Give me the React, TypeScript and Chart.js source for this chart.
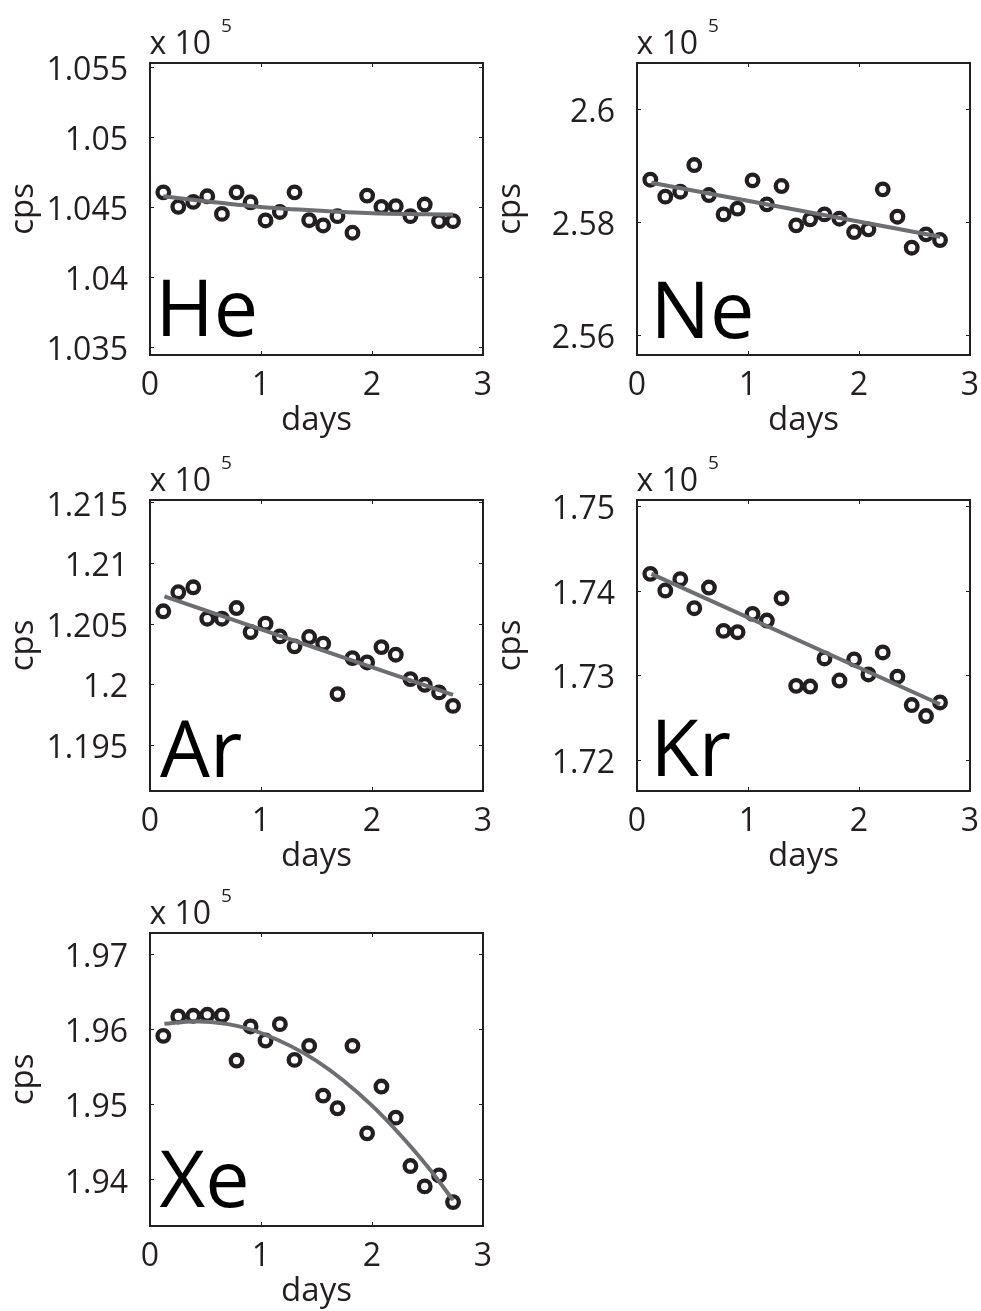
import React, { useEffect, useRef } from 'react';
import { Chart, registerables } from 'chart.js';

Chart.register(...registerables);

// ---- data (cps in units of 10^5) ----
const days = [0.12, 0.255, 0.39, 0.516, 0.648, 0.78, 0.906, 1.041, 1.17, 1.302, 1.434, 1.56, 1.689, 1.824, 1.956, 2.085, 2.214, 2.346, 2.475, 2.604, 2.73];
const dayTicks = [0, 1, 2, 3];

const heCps = [1.04604, 1.04501, 1.04536, 1.04576, 1.0445, 1.04604, 1.04533, 1.04403, 1.04464, 1.04604, 1.04405, 1.04367, 1.04434, 1.04315, 1.04581, 1.045, 1.04505, 1.04434, 1.04517, 1.04398, 1.04398];
const neCps = [2.58748, 2.58448, 2.58536, 2.59007, 2.58477, 2.58135, 2.58236, 2.58736, 2.58312, 2.58636, 2.57941, 2.58047, 2.58135, 2.58059, 2.57823, 2.5787, 2.58577, 2.58094, 2.57546, 2.57782, 2.57682];
const arCps = [1.20602, 1.20759, 1.208, 1.20541, 1.20541, 1.20629, 1.20431, 1.205, 1.20395, 1.20313, 1.2039, 1.20335, 1.19919, 1.20216, 1.2018, 1.20307, 1.20244, 1.20043, 1.19996, 1.19933, 1.19822];
const krCps = [1.74197, 1.74, 1.74134, 1.73791, 1.74035, 1.73523, 1.73507, 1.73724, 1.73645, 1.73909, 1.72873, 1.72865, 1.73197, 1.72936, 1.73185, 1.73008, 1.73268, 1.72981, 1.72646, 1.72516, 1.72677];
const xeCps = [1.95911, 1.96169, 1.96178, 1.96191, 1.96182, 1.95582, 1.96036, 1.95849, 1.96067, 1.95591, 1.95778, 1.95116, 1.94947, 1.95778, 1.94613, 1.95236, 1.94822, 1.94178, 1.93907, 1.94053, 1.93698];

const heFitDays = [0.12, 0.5, 1.0, 1.5, 2.0, 2.5, 2.73];
const heFitCps = [1.04576, 1.0454, 1.045, 1.04474, 1.04455, 1.04448, 1.04445];
const neFitDays = [0.13, 2.73];
const neFitCps = [2.58695, 2.57741];
const arFitDays = [0.13, 2.73];
const arFitCps = [1.20726, 1.19913];
const krFitDays = [0.13, 2.73];
const krFitCps = [1.74197, 1.72656];
const xeFitDays = [0.13, 0.4, 0.7, 1.0, 1.5, 2.0, 2.5, 2.73];
const xeFitCps = [1.96071, 1.96107, 1.96067, 1.95949, 1.95578, 1.94982, 1.94173, 1.93724];

const heTicks = [1.035, 1.04, 1.045, 1.05, 1.055];
const neTicks = [2.56, 2.58, 2.6];
const arTicks = [1.195, 1.2, 1.205, 1.21, 1.215];
const krTicks = [1.72, 1.73, 1.74, 1.75];
const xeTicks = [1.94, 1.95, 1.96, 1.97];

const heRange = [1.0344, 1.0553];
const neRange = [2.5565, 2.6081];
const arRange = [1.1912, 1.2152];
const krRange = [1.7163, 1.7507];
const xeRange = [1.9338, 1.9728];

// ---- styling / layout ----
const FONT = "'Open Sans', sans-serif";
const INK = '#231f20';
const FIT = '#6d6e71';
const AXIS_W = 150;
const TOP_PAD = 70;
const BOTTOM_H = 90;
const RIGHT_PAD = 11;

type PanelCfg = {
  name: string;
  cps: number[];
  fitDays: number[];
  fitCps: number[];
  ticks: number[];
  range: number[];
  box: { l: number; t: number; r: number; b: number };
  labelDx: number;
  labelDy: number;
  curved: boolean;
};

const panels: PanelCfg[] = [
  { name: 'He', cps: heCps, fitDays: heFitDays, fitCps: heFitCps, ticks: heTicks, range: heRange, box: { l: 150, t: 63, r: 483, b: 355 }, labelDx: 5.5, labelDy: 19, curved: true },
  { name: 'Ne', cps: neCps, fitDays: neFitDays, fitCps: neFitCps, ticks: neTicks, range: neRange, box: { l: 637, t: 63, r: 970, b: 355 }, labelDx: 13.5, labelDy: 17, curved: false },
  { name: 'Ar', cps: arCps, fitDays: arFitDays, fitCps: arFitCps, ticks: arTicks, range: arRange, box: { l: 150, t: 500, r: 483, b: 791 }, labelDx: 10, labelDy: 14, curved: false },
  { name: 'Kr', cps: krCps, fitDays: krFitDays, fitCps: krFitCps, ticks: krTicks, range: krRange, box: { l: 637, t: 500, r: 970, b: 791 }, labelDx: 13.5, labelDy: 15.5, curved: false },
  { name: 'Xe', cps: xeCps, fitDays: xeFitDays, fitCps: xeFitCps, ticks: xeTicks, range: xeRange, box: { l: 150, t: 933, r: 483, b: 1226 }, labelDx: 9.5, labelDy: 19, curved: true },
];

const decoPlugin = {
  id: 'panelDeco',
  afterDatasetsDraw(chart: any, _args: any, opts: any) {
    const { ctx, chartArea: a, scales } = chart;
    ctx.save();
    ctx.strokeStyle = INK;
    ctx.lineWidth = 1;
    const tl = 4;
    ctx.beginPath();
    scales.x.ticks.forEach((t: any) => {
      const px = Math.round(scales.x.getPixelForValue(t.value)) + 0.5;
      ctx.moveTo(px, a.bottom);
      ctx.lineTo(px, a.bottom - tl);
      ctx.moveTo(px, a.top);
      ctx.lineTo(px, a.top + tl);
    });
    scales.y.ticks.forEach((t: any) => {
      const py = Math.round(scales.y.getPixelForValue(t.value)) + 0.5;
      ctx.moveTo(a.left, py);
      ctx.lineTo(a.left + tl, py);
      ctx.moveTo(a.right, py);
      ctx.lineTo(a.right - tl, py);
    });
    ctx.stroke();
    ctx.lineWidth = 2;
    ctx.strokeRect(a.left, a.top, a.right - a.left, a.bottom - a.top);

    ctx.fillStyle = INK;
    ctx.textAlign = 'left';
    ctx.textBaseline = 'alphabetic';
    ctx.font = `32px ${FONT}`;
    ctx.fillText('x 10', a.left - 0.5, a.top - 9.5);
    ctx.font = `19px ${FONT}`;
    ctx.fillText('5', a.left + 71, a.top - 31);

    ctx.fillStyle = '#000000';
    ctx.font = `79px ${FONT}`;
    ctx.fillText(opts.label, a.left + opts.dx, a.bottom - opts.dy);
    ctx.restore();
  },
};

function Panel({ cfg }: { cfg: PanelCfg }) {
  const ref = useRef<HTMLCanvasElement | null>(null);
  const { box } = cfg;
  const left = box.l - AXIS_W;
  const top = box.t - TOP_PAD;
  const width = box.r - box.l + AXIS_W + RIGHT_PAD;
  const height = box.b - box.t + TOP_PAD + BOTTOM_H;

  useEffect(() => {
    if (!ref.current) return;
    const tickFont = { family: FONT, size: 32 };
    const chart = new Chart(ref.current, {
      type: 'scatter',
      data: {
        datasets: [
          {
            data: cfg.fitDays.map((x, i) => ({ x, y: cfg.fitCps[i] })),
            showLine: true,
            borderColor: FIT,
            borderWidth: 4,
            pointRadius: 0,
            pointHoverRadius: 0,
            cubicInterpolationMode: cfg.curved ? 'monotone' : 'default',
            order: 0,
          } as any,
          {
            data: days.map((x, i) => ({ x, y: cfg.cps[i] })),
            pointRadius: 5.8,
            pointHoverRadius: 5.8,
            borderWidth: 4.3,
            borderColor: INK,
            backgroundColor: 'rgba(255,255,255,0)',
            order: 1,
          } as any,
        ],
      },
      options: {
        animation: false,
        responsive: false,
        devicePixelRatio: 1,
        events: [],
        layout: { padding: { top: TOP_PAD, right: RIGHT_PAD, left: 0, bottom: 0 } },
        plugins: {
          legend: { display: false },
          tooltip: { enabled: false },
          panelDeco: { label: cfg.name, dx: cfg.labelDx, dy: cfg.labelDy },
        } as any,
        scales: {
          x: {
            type: 'linear',
            min: dayTicks[0],
            max: dayTicks[dayTicks.length - 1],
            grid: { display: false },
            border: { display: false },
            ticks: {
              font: tickFont,
              color: INK,
              padding: 4,
              autoSkip: false,
              maxRotation: 0,
              callback: (v: any) => String(v),
            },
            afterBuildTicks: (s: any) => {
              s.ticks = dayTicks.map((v) => ({ value: v }));
            },
            afterFit: (s: any) => {
              s.height = BOTTOM_H;
              s.paddingLeft = 0;
              s.paddingRight = 0;
            },
            title: {
              display: true,
              text: 'days',
              font: { family: FONT, size: 33 },
              color: INK,
              padding: { top: 0, bottom: 5 },
            },
          },
          y: {
            type: 'linear',
            min: cfg.range[0],
            max: cfg.range[1],
            grid: { display: false },
            border: { display: false },
            ticks: {
              font: tickFont,
              color: INK,
              padding: 14,
              autoSkip: false,
              labelOffset: 4,
              callback: (v: any) => String(v),
            },
            afterBuildTicks: (s: any) => {
              s.ticks = cfg.ticks.map((v) => ({ value: v }));
            },
            afterFit: (s: any) => {
              s.width = AXIS_W;
              s.paddingTop = 0;
              s.paddingBottom = 0;
            },
            title: {
              display: true,
              text: 'cps',
              font: { family: FONT, size: 33 },
              color: INK,
              padding: { top: 4, bottom: 0 },
            },
          },
        },
      } as any,
      plugins: [decoPlugin as any],
    });
    return () => chart.destroy();
  }, [cfg]);

  return (
    <canvas
      ref={ref}
      width={width}
      height={height}
      style={{ position: 'absolute', left, top, width, height }}
    />
  );
}

export default function App() {
  return (
    <div
      style={{
        position: 'absolute',
        left: 0,
        top: 0,
        width: 981,
        height: 1311,
        overflow: 'hidden',
        background: '#ffffff',
      }}
    >
      {panels.map((p) => (
        <Panel key={p.name} cfg={p} />
      ))}
    </div>
  );
}
